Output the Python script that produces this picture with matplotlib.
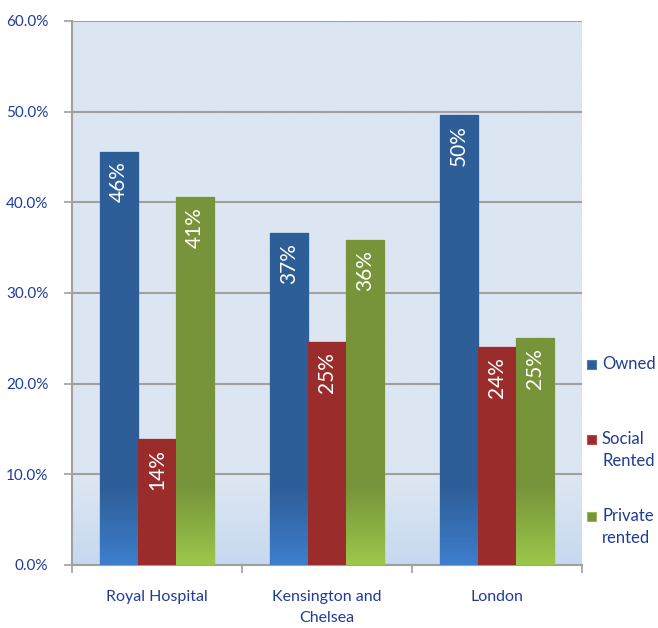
import numpy as np
import matplotlib.pyplot as plt
from matplotlib.patches import Rectangle
from matplotlib.colors import to_rgb

plt.rcParams['font.family'] = ['Lato', 'DejaVu Sans']

categories = ['Royal Hospital', 'Kensington and\nChelsea', 'London']
series = ['Owned', 'Social\nRented', 'Private\nrented']
owned = [45.6, 36.6, 49.6]
social = [13.9, 24.6, 24.0]
private = [40.6, 35.8, 25.0]
yticks = [0, 10, 20, 30, 40, 50, 60]

txt = '#1F3C96'
tops = ['#2E5E97', '#9A2D2C', '#77943A']
bottoms = ['#3D7ECD', '#9A2D2C', '#9CC74B']
edges = ['#4A7EBB', '#BE4B48', '#98B954']

fig = plt.figure(figsize=(6.58, 6.28), dpi=100)
ax = fig.add_axes([72/658, 63/628, 510/658, 544/628])


def grad(top, bottom, h, split=8.6, n=300):
    y = np.linspace(0, h, n)
    t = np.clip(y / split, 0, 1)[:, None]
    c0 = np.array(to_rgb(bottom))
    c1 = np.array(to_rgb(top))
    g = c0 * (1 - t) + c1 * t
    return g[:, None, :]


# background
ax.imshow(grad('#DCE6F2', '#C6D9F0', 60, split=9.0), extent=[-0.5, 2.5, 0, 60],
          origin='lower', aspect='auto', zorder=0)

x = np.arange(len(categories))
w = 0.224
for i, vals in enumerate([owned, social, private]):
    bars = ax.bar(x + (i - 1) * w, vals, w, color=tops[i], edgecolor=edges[i],
                  linewidth=1, zorder=3)
    for b, v in zip(bars, vals):
        im = ax.imshow(grad(tops[i], bottoms[i], v), origin='lower', aspect='auto',
                       extent=[b.get_x(), b.get_x() + w, 0, v], zorder=3.5)
        im.set_clip_path(b)
        ax.annotate(f'{v:.0f}%', (b.get_x() + w / 2, v), xytext=(0, -10),
                    textcoords='offset pixels', rotation=90, ha='center', va='top',
                    color='white', fontsize=15, zorder=5)

ax.set_xlim(-0.5, 2.5)
ax.set_ylim(0, 60)
ax.set_yticks(yticks)
ax.set_yticklabels([f'{t:.1f}%' for t in yticks])
ax.yaxis.grid(True, color='#A0A0A0', linewidth=1.5, zorder=1)
ax.set_axisbelow(True)

ax.set_xticks(x)
ax.set_xticklabels(categories, linespacing=1.65)
ax.set_xticks([-0.5, 0.5, 1.5, 2.5], minor=True)
ax.tick_params(axis='x', which='major', length=0, pad=18, labelsize=11.5, labelcolor=txt)
ax.tick_params(axis='x', which='minor', length=6, width=1.2, color='#A0A0A0', direction='out')
ax.tick_params(axis='y', length=6, width=1.2, color='#A0A0A0', pad=11, labelsize=11,
               labelcolor=txt)

for s in ['top', 'right']:
    ax.spines[s].set_visible(False)
for s in ['left', 'bottom']:
    ax.spines[s].set_color('#A0A0A0')
    ax.spines[s].set_linewidth(1.5)

# legend
leg_y = [364, 439, 516]
for i, lab in enumerate(series):
    fig.patches.append(Rectangle((587/658, 1 - (leg_y[i] + 5)/628), 9/658, 9/628,
                                 transform=fig.transFigure, facecolor=tops[i],
                                 edgecolor=edges[i], linewidth=0.8))
    fig.text(602/658, 1 - (leg_y[i] - 8)/628, lab, ha='left', va='top', fontsize=12,
             color=txt, linespacing=1.45)

fig.savefig('out.png', dpi=100)
